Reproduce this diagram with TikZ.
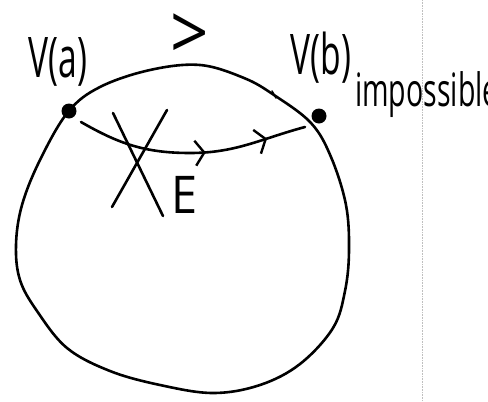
\documentclass[tikz,border=0pt]{standalone}
\usepackage{fontspec}
\setmainfont{Open Sans}
\usetikzlibrary{arrows.meta,decorations.markings}

\tikzset{
  ink/.style={line width=2.6pt,line cap=round,line join=round},
  dot/.style={circle,fill,inner sep=0pt,minimum size=15pt},
  hand/.style={inner sep=0pt,font=\fontsize{56}{56}\selectfont},
  barb/.tip={Straight Barb[length=9pt,width=25pt,line width=2.4pt]},
  flow/.style={ink,postaction={decorate},decoration={markings,
    mark=at position 0.56 with {\arrow{barb}},
    mark=at position 0.83 with {\arrow{barb}}}},
}
\newcommand{\narrow}[1]{\scalebox{0.6}[1]{#1}}

\begin{document}
\begin{tikzpicture}[x=1pt,y=-1pt]
  \useasboundingbox (0,0) rectangle (488,402);
  \clip (0,0) rectangle (488,402);
  % fold of the scanned page
  \draw[black!25,densely dotted,line width=.6pt] (422,0)--(422,402);
  % the region
  \draw[ink] plot[smooth cycle,tension=.6] coordinates {
    (68,112) (100,87) (150,70) (200,65) (244,78) (274,95) (311,123)
    (331,157) (346,205) (349,251) (345,291) (333,328) (300,364)
    (260,385) (213,393) (160,385) (110,371) (67,348) (37,311)
    (20,280) (16,245) (22,205) (40,160)};
  \draw[ink,line width=1.6pt] (276,98)--(272,91);
  % end points
  \node[dot] (va) at (69,111) {};
  \node[dot] (vb) at (319,116) {};
  \node[hand,anchor=base] (lva) at (58,77) {\narrow{V(a)}};
  \node[hand,anchor=base] (lvb) at (321,74) {\narrow{V(b)}};
  \node[hand,anchor=base west] (imp) at (355,106)
    {\fontsize{46}{46}\selectfont\scalebox{0.62}[1]{impossible}};
  \node[hand] (gt) at (190,37) {\scalebox{1.2}[1.35]{>}};
  % path along the field
  \coordinate (pa) at (81,122);
  \coordinate (pb) at (305,127);
  \draw[flow] (pa) to[out=-30,in=180] (190,153) to[out=0,in=195] (pb);
  % crossed out
  \draw[ink] (113,113)--(163,216);
  \draw[ink] (167,110)--(112,207);
  \node[hand,anchor=base] (field) at (185,213)
    {\fontsize{52}{52}\selectfont\scalebox{0.9}[1]{E}};
\end{tikzpicture}
\end{document}
